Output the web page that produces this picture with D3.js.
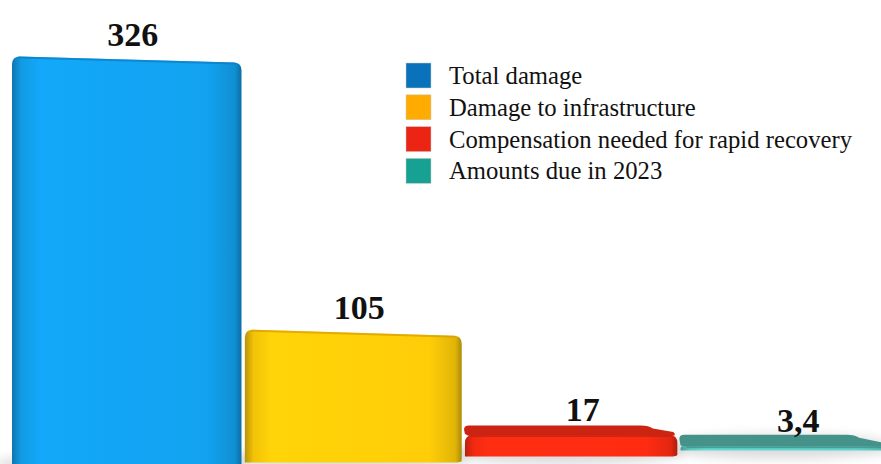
<!DOCTYPE html>
<html>
<head>
<meta charset="utf-8">
<script src="https://cdn.jsdelivr.net/npm/d3@7"></script>
<style>
  body { margin: 0; background: #fff; }
  svg { display: block; }
  .value { font-family: "Liberation Serif", "Times New Roman", serif; font-size: 34px; fill: #111; }
  .legend text { font-family: "Liberation Serif", "Times New Roman", serif; font-size: 26px; fill: #111; }
</style>
</head>
<body>
<script>
// data
var categories = ["Total damage", "Damage to infrastructure", "Compensation needed for rapid recovery", "Amounts due in 2023"];
var values = [326, 105, 17, 3.4];
var valueLabels = ["326", "105", "17", "3,4"];

// colours
var legendColors = ["#0a72ba", "#ffab00", "#ec2414", "#17a193"];
var frontColors = ["#12a2f0", "#ffcd08", "#ff2c12", "#5fd3ca"];
var topColors = ["#0b86d0", "#e8a800", "#cc2412", "#44928a"];

var width = 881,
	height = 464;

var svg = d3.select("body").append("svg")
	.attr("width", width)
	.attr("height", height);

var defs = svg.append("defs");

// horizontal shading for the rounded front faces
frontColors.forEach(function(c, i) {
	var g = defs.append("linearGradient")
		.attr("id", "front" + i)
		.attr("x1", 0).attr("x2", 1).attr("y1", 0).attr("y2", 0);
	var col = d3.color(c);
	g.append("stop").attr("offset", "0%").attr("stop-color", col.darker(0.9));
	g.append("stop").attr("offset", "4%").attr("stop-color", col.darker(0.15));
	g.append("stop").attr("offset", "12%").attr("stop-color", col.brighter(0.1));
	g.append("stop").attr("offset", "85%").attr("stop-color", col);
	g.append("stop").attr("offset", "97%").attr("stop-color", col.darker(0.35));
	g.append("stop").attr("offset", "100%").attr("stop-color", col.darker(1.1));
});

var blur = defs.append("filter").attr("id", "soft")
	.attr("x", "-20%").attr("y", "-50%").attr("width", "140%").attr("height", "200%");
blur.append("feGaussianBlur").attr("stdDeviation", 6);

var band = d3.scaleBand()
	.domain(categories)
	.range([0, 1])
	.paddingInner(0.015);

// bars get a little narrower to the right (perspective)
var px = d3.scalePow()
	.exponent(0.96)
	.domain([0, 1])
	.range([12, 890]);

var h = d3.scaleLinear()
	.domain([0, 326])
	.range([0, 412]);

// floor rises slightly to the right
var floor = d3.scaleLinear()
	.domain([0, width])
	.range([472, 448]);

var horizon = 385;

var bars = categories.map(function(c, i) {
	var x0 = px(band(c)), x1 = px(band(c) + band.bandwidth());
	var base = floor((x0 + x1) / 2);
	var top = base - h(values[i]);
	var depth = Math.max(0, (top - horizon) * 0.19);
	return {i: i, x0: x0, x1: x1, base: base, top: top, depth: depth};
});

// floor shadows
svg.append("g").selectAll("ellipse")
	.data(bars)
	.join("ellipse")
	.attr("cx", function(d) { return (d.x0 + d.x1) / 2 - 6; })
	.attr("cy", function(d) { return d.base - 4; })
	.attr("rx", function(d) { return (d.x1 - d.x0) / 2 + 12; })
	.attr("ry", 12)
	.attr("fill", "#000")
	.attr("opacity", 0.14)
	.attr("filter", "url(#soft)");

function frontPath(d) {
	var r = Math.min(8, (d.base - d.top) / 2);
	var slant = d.depth > 0 ? 0 : 6;
	var p = d3.path();
	p.moveTo(d.x0, d.base);
	p.lineTo(d.x0, d.top + r);
	p.quadraticCurveTo(d.x0, d.top, d.x0 + r, d.top);
	p.lineTo(d.x1 - r, d.top + slant);
	p.quadraticCurveTo(d.x1, d.top + slant, d.x1, d.top + slant + r);
	p.lineTo(d.x1, d.base - 2);
	p.quadraticCurveTo(d.x1, d.base, d.x1 - r, d.base);
	p.closePath();
	return p.toString();
}

function topPath(d) {
	var k = d.depth;
	var bx0 = d.x0 - k * 0.1, bx1 = d.x1 - k * 3;
	var p = d3.path();
	p.moveTo(d.x0 + 4, d.top + 1);
	p.lineTo(d.x1 - 6, d.top + 1);
	p.quadraticCurveTo(d.x1, d.top + 1, d.x1 - 4, d.top - 3);
	p.lineTo(bx1 + 4, d.top - k + 3);
	p.quadraticCurveTo(bx1, d.top - k, bx1 - 8, d.top - k);
	p.lineTo(bx0 + 5, d.top - k);
	p.quadraticCurveTo(bx0, d.top - k, bx0, d.top - k + 4);
	p.lineTo(d.x0, d.top - 1);
	p.closePath();
	return p.toString();
}

// draw right to left so the left bars sit in front
var barG = svg.append("g").selectAll("g")
	.data(bars.slice().reverse())
	.join("g");

barG.filter(function(d) { return d.depth > 0; })
	.append("path")
	.attr("d", topPath)
	.attr("fill", function(d) { return topColors[d.i]; });

barG.append("path")
	.attr("d", frontPath)
	.attr("fill", function(d) { return "url(#front" + d.i + ")"; });

// thin rim on top edge
barG.append("path")
	.attr("d", function(d) {
		var slant = d.depth > 0 ? 0 : 6;
		return "M" + (d.x0 + 6) + "," + (d.top + 1) + "L" + (d.x1 - 6) + "," + (d.top + slant + 1);
	})
	.attr("stroke", function(d) { return d3.color(topColors[d.i]).darker(0.2); })
	.attr("stroke-width", 2)
	.attr("opacity", 0.7);

// value labels
svg.append("g").selectAll("text")
	.data(bars)
	.join("text")
	.attr("class", "value")
	.attr("text-anchor", "middle")
	.attr("x", function(d) { return (d.x0 + d.x1) / 2 + 6 + d.depth * 0.6; })
	.attr("y", function(d) { return d.top - d.depth * 0.3 - 11; })
	.style("font-weight", "bold")
	.text(function(d) { return valueLabels[d.i]; });

// legend
var legend = svg.append("g")
	.attr("class", "legend")
	.attr("transform", "translate(406,63)");

var item = legend.selectAll("g")
	.data(categories)
	.join("g")
	.attr("transform", function(d, i) { return "translate(0," + (i * 31.8) + ")"; });

item.append("rect")
	.attr("width", 25)
	.attr("height", 25)
	.attr("fill", function(d, i) { return legendColors[i]; })
	.attr("stroke", "#ccc")
	.attr("stroke-width", 0.5);

item.append("text")
	.attr("transform", "translate(43,21) scale(0.95,1)")
	.text(function(d) { return d; });
</script>
</body>
</html>
